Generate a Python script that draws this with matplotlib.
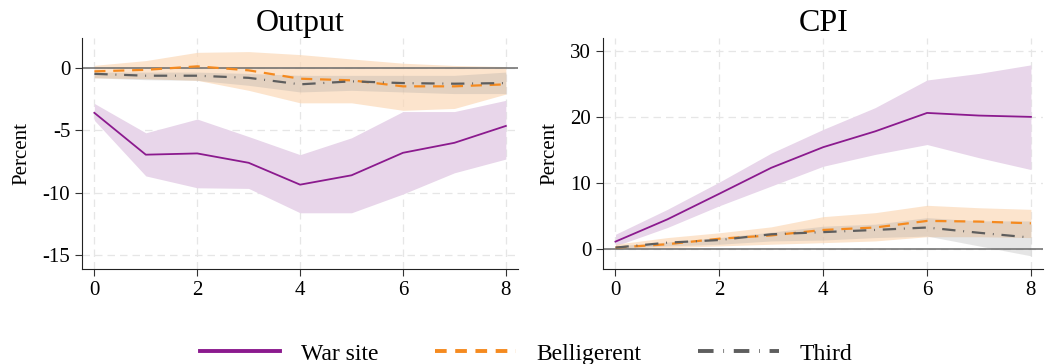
import numpy as np
import matplotlib
matplotlib.use('Agg')
from matplotlib import pyplot as plt
from matplotlib.lines import Line2D

plt.rcParams['font.family'] = ['Liberation Serif', 'DejaVu Serif']

horizons = [0, 1, 2, 3, 4, 5, 6, 7, 8]

# Output
out_war = [-3.6, -6.95, -6.85, -7.6, -9.35, -8.6, -6.8, -6.0, -4.65]
out_war_hi = [-2.85, -5.2, -4.1, -5.5, -6.95, -5.6, -3.5, -3.5, -2.6]
out_war_lo = [-4.2, -8.65, -9.6, -9.65, -11.6, -11.6, -10.1, -8.4, -7.3]
out_bel = [-0.28, -0.16, 0.12, -0.2, -0.87, -1.0, -1.48, -1.48, -1.32]
out_bel_hi = [0.2, 0.58, 1.24, 1.3, 1.06, 0.71, 0.37, 0.19, 0.1]
out_bel_lo = [-0.8, -0.87, -1.0, -1.8, -2.8, -2.8, -3.4, -3.25, -2.1]
out_thi = [-0.48, -0.63, -0.63, -0.8, -1.32, -1.08, -1.22, -1.27, -1.22]
out_thi_hi = [-0.34, -0.34, -0.34, -0.45, -0.6, -0.6, -0.6, -0.6, -0.34]
out_thi_lo = [-0.8, -0.95, -1.0, -1.4, -1.93, -1.8, -1.93, -2.06, -2.06]

# CPI
cpi_war = [1.06, 4.44, 8.33, 12.27, 15.4, 17.8, 20.6, 20.2, 20.0]
cpi_war_hi = [2.17, 5.96, 10.1, 14.5, 18.1, 21.4, 25.6, 26.6, 27.9]
cpi_war_lo = [0.4, 3.2, 6.5, 9.5, 12.5, 14.3, 15.8, 13.8, 12.0]
cpi_bel = [0.15, 0.66, 1.5, 2.0, 2.83, 3.2, 4.2, 4.1, 3.84]
cpi_bel_hi = [0.66, 1.67, 2.4, 3.3, 4.85, 5.45, 6.57, 6.2, 5.96]
cpi_bel_lo = [0.0, 0.15, 0.4, 0.66, 0.9, 1.16, 1.8, 1.8, 1.67]
cpi_thi = [0.15, 0.9, 1.3, 2.17, 2.5, 2.83, 3.2, 2.4, 1.67]
cpi_thi_hi = [0.4, 1.0, 1.67, 2.5, 3.4, 3.7, 4.7, 4.2, 4.2]
cpi_thi_lo = [0.0, 0.4, 0.66, 1.16, 1.3, 1.67, 1.9, 0.4, -1.1]

purple = '#8b1a8e'
orange = '#f58a1f'
gray = '#5e5e5e'


def draw(ax, title, war, war_hi, war_lo, bel, bel_hi, bel_lo, thi, thi_hi, thi_lo, yticks, ylim):
    ax.fill_between(horizons, war_lo, war_hi, color='#e8d6ea', lw=0)
    ax.fill_between(horizons, bel_lo, bel_hi, color='#fbd9b8', alpha=0.7, lw=0)
    ax.fill_between(horizons, thi_lo, thi_hi, color='#9a9a9a', alpha=0.25, lw=0)
    ax.axhline(0, color='#6a6a6a', lw=1.1, zorder=2)
    ax.plot(horizons, war, color=purple, lw=1.3, zorder=4)
    ax.plot(horizons, bel, color=orange, lw=1.6, dashes=(5, 3.5), zorder=4)
    ax.plot(horizons, thi, color=gray, lw=1.6, dashes=(6, 3.5, 0.4, 3.5), zorder=5)
    ax.set_title(title, fontsize=23, pad=5)
    ax.set_ylabel('Percent', fontsize=15, labelpad=8)
    ax.set_yticks(yticks)
    ax.set_yticklabels([str(t) for t in yticks])
    ax.set_xticks([0, 2, 4, 6, 8])
    ax.set_xlim(-0.24, 8.24)
    ax.set_ylim(*ylim)
    ax.grid(True, color='#e6e6e6', ls=(0, (6, 4)), lw=0.9)
    ax.set_axisbelow(True)
    ax.spines['top'].set_visible(False)
    ax.spines['right'].set_visible(False)
    ax.spines['left'].set_color('#222222')
    ax.spines['bottom'].set_color('#222222')
    ax.tick_params(labelsize=15, length=5, color='#333333')


fig = plt.figure(figsize=(10.46, 3.64), dpi=100)
ax1 = fig.add_axes([0.0784, 0.261, 0.417, 0.635])
ax2 = fig.add_axes([0.5765, 0.261, 0.421, 0.635])

draw(ax1, 'Output', out_war, out_war_hi, out_war_lo, out_bel, out_bel_hi, out_bel_lo,
     out_thi, out_thi_hi, out_thi_lo, [-15, -10, -5, 0], (-16.1, 2.4))
draw(ax2, 'CPI', cpi_war, cpi_war_hi, cpi_war_lo, cpi_bel, cpi_bel_hi, cpi_bel_lo,
     cpi_thi, cpi_thi_hi, cpi_thi_lo, [0, 10, 20, 30], (-3.1, 32.0))

handles = [Line2D([], [], color=purple, lw=2.8),
           Line2D([], [], color=orange, lw=2.8, dashes=(3, 2.2)),
           Line2D([], [], color=gray, lw=2.8, dashes=(4, 2.5, 0.2, 2.5))]
fig.legend(handles, ['War site', 'Belligerent', 'Third'], loc='lower center',
           bbox_to_anchor=(0.503, -0.06), ncol=3, frameon=False, fontsize=17,
           handlelength=3.4, columnspacing=2.4, handletextpad=0.9)

fig.savefig('out.png', dpi=100)
